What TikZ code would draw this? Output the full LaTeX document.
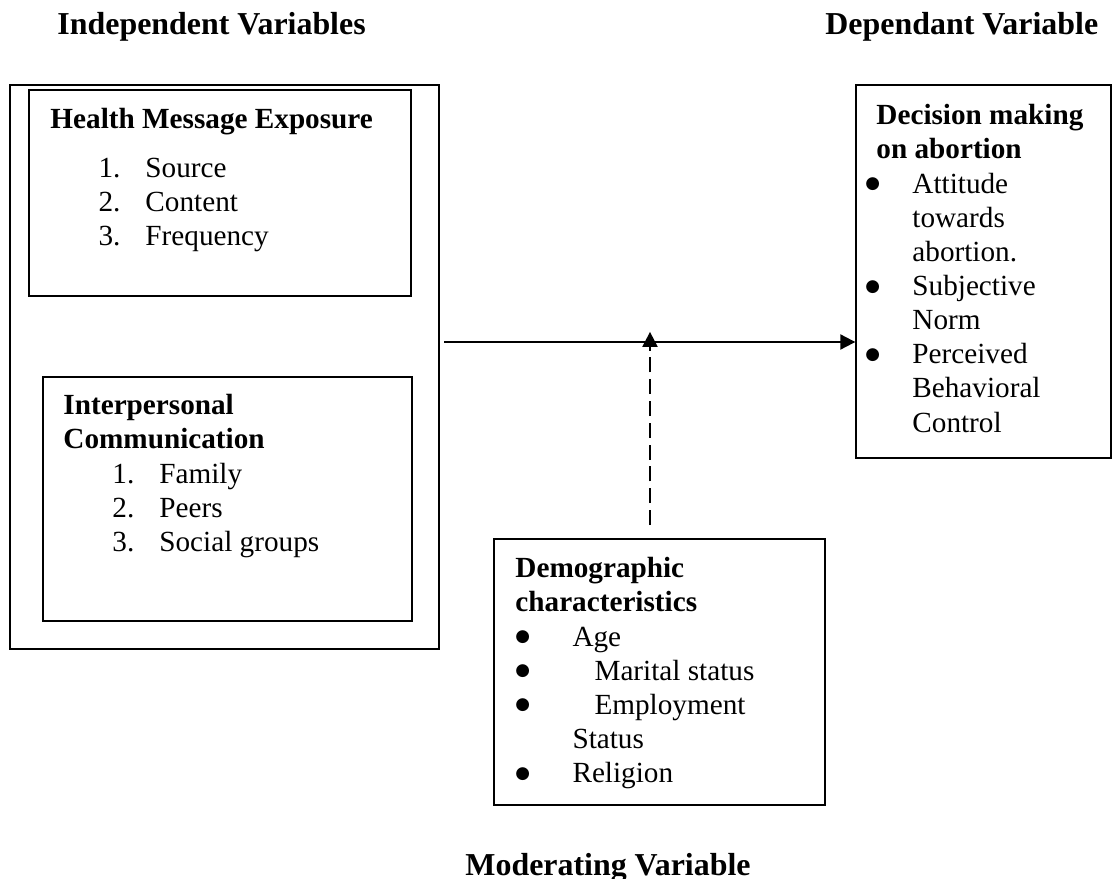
\documentclass[tikz,border=0pt]{standalone}
\usepackage{fontspec}
\setmainfont{Liberation Serif}
\newfontfamily\symfont{DejaVu Sans}
\usetikzlibrary{arrows.meta,fit}
\newcommand{\bigdot}{\raisebox{2pt}{\symfont\fontsize{7.5}{0}\selectfont ●}}
\newcommand{\numrow}[2]{\makebox[20.9pt][l]{#1}#2}
\newcommand{\dotrow}[2]{\makebox[#1][l]{\bigdot}#2}
\begin{document}
\begin{tikzpicture}[x=0.445pt, y=-0.445pt,
  font=\fontsize{13}{15.2}\selectfont,
  box/.style={draw, line width=0.6pt, inner sep=0pt},
  txt/.style={anchor=north west, inner sep=0pt, align=left},
  head/.style={anchor=base west, inner sep=0pt, font=\fontsize{14.2}{16}\selectfont\bfseries},
  link/.style={line width=0.9pt, -{Triangle[width=6.7pt,length=6.7pt]}}]
  \useasboundingbox (0,0) rectangle (1112,879);
  \node[head] (indep) at (57,35) {Independent Variables};
  \node[head] (dep) at (825,35) {Dependant Variable};
  \node[head] (moder) at (465,875) {Moderating Variable};
  \node[box, fit={(10,85) (439,649)}] (ivbox) {};
  \node[box, fit={(29,90) (411,296)}] (hme) {};
  \node[box, fit={(43,377) (412,621)}] (ic) {};
  \node[box, fit={(856,85) (1111,458)}] (dv) {};
  \node[box, fit={(494,539) (825,805)}] (demo) {};
  \node[txt] (hmetext) at (50,108) {\textbf{Health Message Exposure}\\[6.5pt]
    \hspace*{21.4pt}\numrow{1.}{Source}\\
    \hspace*{21.4pt}\numrow{2.}{Content}\\
    \hspace*{21.4pt}\numrow{3.}{Frequency}};
  \node[txt] (ictext) at (63,394) {\textbf{Interpersonal}\\
    \textbf{Communication}\\
    \hspace*{21.8pt}\numrow{1.}{Family}\\
    \hspace*{21.8pt}\numrow{2.}{Peers}\\
    \hspace*{21.8pt}\numrow{3.}{Social groups}};
  \node[txt] (dvtext) at (865,104) {\hspace*{4.9pt}\textbf{Decision making}\\
    \hspace*{4.9pt}\textbf{on abortion}\\
    \dotrow{20.9pt}{Attitude}\\
    \hspace*{20.9pt}towards\\
    \hspace*{20.9pt}abortion.\\
    \dotrow{20.9pt}{Subjective}\\
    \hspace*{20.9pt}Norm\\
    \dotrow{20.9pt}{Perceived}\\
    \hspace*{20.9pt}Behavioral\\
    \hspace*{20.9pt}Control};
  \node[txt] (demotext) at (515,557) {\textbf{Demographic}\\
    \textbf{characteristics}\\
    \dotrow{25.4pt}{Age}\\
    \dotrow{35.2pt}{Marital status}\\
    \dotrow{35.2pt}{Employment}\\
    \hspace*{25.4pt}Status\\
    \dotrow{25.4pt}{Religion}};
  \coordinate (src) at (444,342);
  \coordinate (modtail) at (650,525);
  \draw[link] (src) -- (src -| dv.west);
  \draw[link, dash pattern=on 6.7pt off 3pt, shorten >=-4.5pt] (modtail) -- (modtail |- src);
\end{tikzpicture}
\end{document}
